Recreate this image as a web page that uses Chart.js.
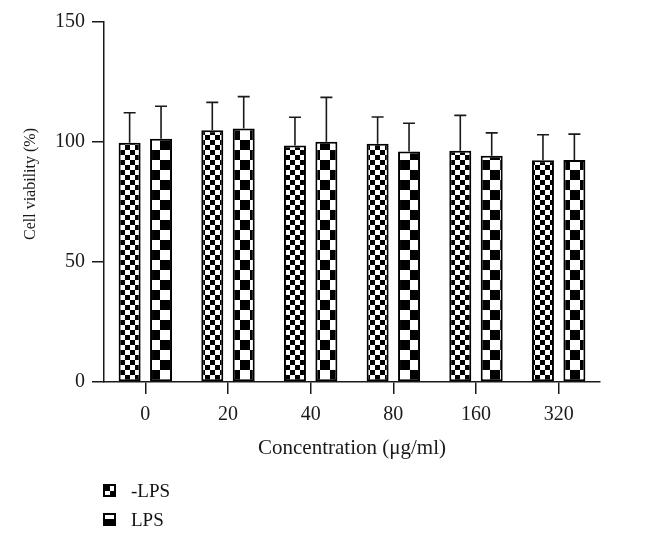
<!DOCTYPE html>
<html>
<head>
<meta charset="utf-8">
<script src="https://cdn.jsdelivr.net/npm/chart.js@4/dist/chart.umd.min.js"></script>
<style>
  html, body { margin: 0; padding: 0; background: #fff; }
  #wrap { position: relative; width: 658px; height: 537px; }
  #legend { position: absolute; left: 103px; top: 476px; font-family: "Liberation Serif", serif; font-size: 19px; color: #111; }
  .row { display: flex; align-items: center; height: 29px; }
  .row canvas { width: 13px; height: 13px; margin-right: 15px; }
</style>
</head>
<body>
<div id="wrap">
  <canvas id="c" width="658" height="537"></canvas>
  <div id="legend"></div>
</div>
<script>
// ---- data ----
const categories = ["0", "20", "40", "80", "160", "320"];
const seriesNames = ["-LPS", "LPS"];
const minusLPS = [99.7, 104.9, 98.5, 99.3, 96.4, 92.4];
const minusLPSsd = [12.5, 11.6, 11.8, 11.1, 14.7, 10.6];
const withLPS = [101.4, 105.6, 100.1, 96.0, 94.3, 92.5];
const withLPSsd = [13.5, 13.3, 18.5, 11.8, 9.5, 10.8];
const yTicks = [0, 50, 100, 150];

const FONT = "'Liberation Serif', 'Times New Roman', serif";
const INK = '#1a1a1a';

function checker(cell) {
  const c = document.createElement('canvas');
  c.width = c.height = cell * 2;
  const g = c.getContext('2d');
  g.fillStyle = '#fff'; g.fillRect(0, 0, cell * 2, cell * 2);
  g.fillStyle = '#000';
  g.fillRect(0, 0, cell, cell);
  g.fillRect(cell, cell, cell, cell);
  return document.createElement('canvas').getContext('2d').createPattern(c, 'repeat');
}
const smallPat = checker(5);
const largePat = checker(10);

const errorBars = {
  id: 'errorBars',
  afterDatasetsDraw(chart) {
    const ctx = chart.ctx;
    const y = chart.scales.y;
    ctx.save();
    ctx.strokeStyle = INK;
    ctx.lineWidth = 1.6;
    chart.data.datasets.forEach((ds, i) => {
      const meta = chart.getDatasetMeta(i);
      meta.data.forEach((bar, j) => {
        const top = y.getPixelForValue(ds.data[j] + ds.sd[j]);
        ctx.beginPath();
        ctx.moveTo(bar.x, bar.y);
        ctx.lineTo(bar.x, top);
        ctx.moveTo(bar.x - 6, top);
        ctx.lineTo(bar.x + 6, top);
        ctx.stroke();
      });
    });
    ctx.restore();
  }
};

const chart = new Chart(document.getElementById('c'), {
  type: 'bar',
  data: {
    labels: categories,
    datasets: [
      { label: seriesNames[0], data: minusLPS, sd: minusLPSsd, backgroundColor: smallPat,
        borderColor: '#000', borderWidth: 2, borderSkipped: false,
        barPercentage: 0.7, categoryPercentage: 0.76 },
      { label: seriesNames[1], data: withLPS, sd: withLPSsd, backgroundColor: largePat,
        borderColor: '#000', borderWidth: 2, borderSkipped: false,
        barPercentage: 0.7, categoryPercentage: 0.76 }
    ]
  },
  options: {
    responsive: false,
    animation: false,
    layout: { padding: { left: 10, top: 22, right: 58, bottom: 76 } },
    plugins: { legend: { display: false }, tooltip: { enabled: false } },
    scales: {
      x: {
        afterFit(s) { s.height = 79; },
        grid: { offset: false, drawOnChartArea: false, drawTicks: true, tickLength: 12, color: INK, lineWidth: 1.5 },
        border: { display: true, color: INK, width: 1.5 },
        ticks: { color: INK, font: { family: FONT, size: 20 }, padding: 9, maxRotation: 0 },
        title: { display: true, text: 'Concentration (μg/ml)', color: INK, font: { family: FONT, size: 21 }, padding: { top: 0, bottom: 0 } }
      },
      y: {
        min: 0, max: 150,
        afterFit(s) { s.width = 94; },
        afterBuildTicks(s) { s.ticks = yTicks.map(v => ({ value: v })); },
        grid: { drawOnChartArea: false, drawTicks: true, tickLength: 12, color: INK, lineWidth: 1.5 },
        border: { display: true, color: INK, width: 1.5 },
        ticks: { color: INK, font: { family: FONT, size: 20 }, padding: 7 },
        title: { display: true, text: '\u2002\u2002\u2002\u2002 Cell viability (%)', color: INK, font: { family: FONT, size: 16 }, padding: { top: 11, bottom: 0 } }
      }
    }
  },
  plugins: [errorBars]
});

// legend (HTML, real text)
function icon(kind) {
  const c = document.createElement('canvas');
  c.width = 13; c.height = 13;
  const g = c.getContext('2d');
  g.fillStyle = '#000'; g.fillRect(0, 0, 13, 13);
  g.fillStyle = '#fff';
  if (kind === 0) {
    g.fillRect(7, 2, 4, 5);
    g.fillRect(2, 7, 5, 4);
  } else {
    g.fillRect(2, 2, 9, 4);
  }
  return c;
}
const lg = document.getElementById('legend');
seriesNames.forEach((name, i) => {
  const row = document.createElement('div');
  row.className = 'row';
  row.appendChild(icon(i));
  const s = document.createElement('span');
  s.textContent = name;
  row.appendChild(s);
  lg.appendChild(row);
});
</script>
</body>
</html>
